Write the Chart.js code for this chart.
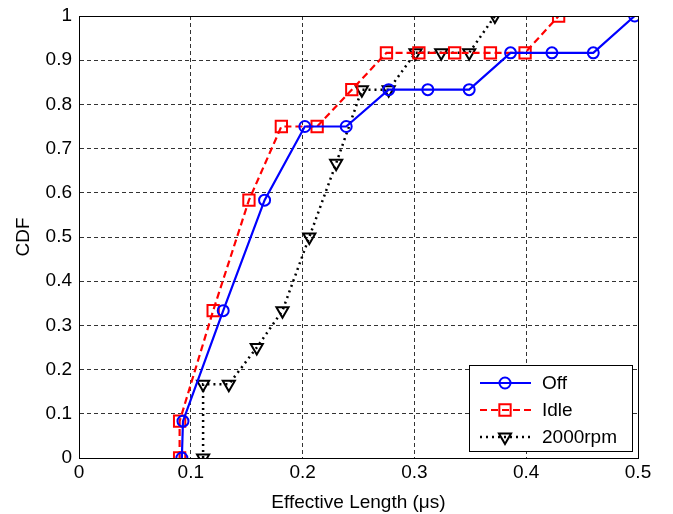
<!DOCTYPE html>
<html>
<head>
<meta charset="utf-8">
<script src="https://cdn.jsdelivr.net/npm/chart.js@4/dist/chart.umd.min.js"></script>
<style>
  body { margin: 0; background: #fff; }
</style>
</head>
<body>
<canvas id="cdfChart" width="673" height="514"></canvas>
<script>
// values (x in microseconds, y = CDF)
const offX = [0.092, 0.093, 0.129, 0.166, 0.202, 0.239, 0.277, 0.312, 0.349, 0.386, 0.423, 0.460, 0.497];
const offY = [0, 1/12, 4/12, 7/12, 9/12, 9/12, 10/12, 10/12, 10/12, 11/12, 11/12, 11/12, 1];

const idleX = [0.090, 0.090, 0.120, 0.152, 0.181, 0.213, 0.244, 0.275, 0.304, 0.336, 0.368, 0.399, 0.429];
const idleY = [0, 1/12, 4/12, 7/12, 9/12, 9/12, 10/12, 11/12, 11/12, 11/12, 11/12, 11/12, 1];

const rpmX = [0.111, 0.111, 0.134, 0.159, 0.182, 0.206, 0.230, 0.253, 0.277, 0.301, 0.324, 0.349, 0.372];
const rpmY = [0, 2/12, 2/12, 3/12, 4/12, 6/12, 8/12, 10/12, 10/12, 11/12, 11/12, 11/12, 1];

const xTicks = [0, 0.1, 0.2, 0.3, 0.4, 0.5];
const yTicks = [0, 0.1, 0.2, 0.3, 0.4, 0.5, 0.6, 0.7, 0.8, 0.9, 1];

function pts(xs, ys) {
  return xs.map(function(x, i) { return { x: x, y: ys[i] }; });
}

const FONT = "'Liberation Sans', Arial, Helvetica, sans-serif";
Chart.defaults.font.family = FONT;
Chart.defaults.font.size = 19;
Chart.defaults.color = '#000';

// full box around the plot area
const boxPlugin = {
  id: 'box',
  afterDraw(chart) {
    const a = chart.chartArea, ctx = chart.ctx;
    ctx.save();
    ctx.strokeStyle = '#000';
    ctx.lineWidth = 1;
    ctx.setLineDash([]);
    ctx.strokeRect(a.left + 0.5, a.top + 0.5, a.right - a.left, a.bottom - a.top);
    ctx.restore();
  }
};

// matlab-style legend in the lower right, line + marker per series
const legendPlugin = {
  id: 'inLegend',
  afterDraw(chart) {
    const a = chart.chartArea, ctx = chart.ctx;
    const w = 163, h = 86;
    const x0 = a.right - 169, y0 = a.bottom - 93;
    ctx.save();
    ctx.fillStyle = '#fff';
    ctx.fillRect(x0, y0, w, h);
    ctx.strokeStyle = '#000';
    ctx.lineWidth = 1;
    ctx.strokeRect(x0 + 0.5, y0 + 0.5, w, h);
    chart.data.datasets.forEach(function(ds, i) {
      const cy = y0 + 18 + i * 27;
      ctx.strokeStyle = ds.borderColor;
      ctx.lineWidth = ds.borderWidth;
      ctx.setLineDash(ds.borderDash || []);
      ctx.beginPath();
      ctx.moveTo(x0 + 11, cy);
      ctx.lineTo(x0 + 62, cy);
      ctx.stroke();
      ctx.setLineDash([]);
      ctx.lineWidth = 2;
      ctx.fillStyle = 'rgba(0,0,0,0)';
      Chart.helpers.drawPoint(ctx, {
        pointStyle: ds.pointStyle,
        radius: ds.pointRadius,
        rotation: ds.pointRotation || 0,
        borderWidth: 2
      }, x0 + 36, cy);
      ctx.fillStyle = '#000';
      ctx.font = '19px ' + FONT;
      ctx.textBaseline = 'middle';
      ctx.fillText(ds.label, x0 + 73, cy + 1);
    });
    ctx.restore();
  }
};

new Chart(document.getElementById('cdfChart').getContext('2d'), {
  type: 'line',
  data: {
    datasets: [{
      label: 'Off',
      data: pts(offX, offY),
      borderColor: '#0000ff',
      backgroundColor: 'rgba(0,0,0,0)',
      borderWidth: 2.2,
      pointStyle: 'circle',
      pointRadius: 5.5,
      pointBorderWidth: 2,
      pointBorderColor: '#0000ff',
      pointBackgroundColor: 'rgba(0,0,0,0)'
    }, {
      label: 'Idle',
      data: pts(idleX, idleY),
      borderColor: '#ff0000',
      backgroundColor: 'rgba(0,0,0,0)',
      borderWidth: 2.2,
      borderDash: [7, 4],
      pointStyle: 'rect',
      pointRadius: 8,
      pointBorderWidth: 2,
      pointBorderColor: '#ff0000',
      pointBackgroundColor: 'rgba(0,0,0,0)'
    }, {
      label: '2000rpm',
      data: pts(rpmX, rpmY),
      borderColor: '#000000',
      backgroundColor: 'rgba(0,0,0,0)',
      borderWidth: 2.5,
      borderDash: [2, 4],
      pointStyle: 'triangle',
      pointRotation: 180,
      pointRadius: 7,
      pointBorderWidth: 2,
      pointBorderColor: '#000000',
      pointBackgroundColor: 'rgba(0,0,0,0)'
    }]
  },
  options: {
    responsive: false,
    animation: false,
    layout: { padding: { left: 0, top: 16, right: 35, bottom: 0 } },
    plugins: {
      legend: { display: false },
      tooltip: { enabled: false }
    },
    scales: {
      x: {
        type: 'linear',
        min: 0,
        max: 0.5,
        afterBuildTicks(axis) { axis.ticks = xTicks.map(function(v) { return { value: v }; }); },
        afterFit(axis) { axis.height = 56; axis.paddingLeft = 0; axis.paddingRight = 0; },
        ticks: {
          padding: 3,
          callback: function(v) { return String(+v.toFixed(1)); }
        },
        grid: { color: '#333', lineWidth: 1, drawTicks: false },
        border: { display: true, color: '#000', dash: [4, 3] },
        title: { display: true, text: 'Effective Length (\u03bcs)', padding: { top: 1, bottom: 0 } }
      },
      y: {
        type: 'linear',
        min: 0,
        max: 1,
        afterBuildTicks(axis) { axis.ticks = yTicks.map(function(v) { return { value: v }; }); },
        afterFit(axis) { axis.width = 79; axis.paddingTop = 0; axis.paddingBottom = 0; },
        ticks: {
          padding: 7,
          callback: function(v) { return String(+v.toFixed(1)); }
        },
        grid: { color: '#333', lineWidth: 1, drawTicks: false },
        border: { display: true, color: '#000', dash: [4, 3] },
        title: { display: true, text: 'CDF', padding: { top: 12, bottom: 0 } }
      }
    }
  },
  plugins: [boxPlugin, legendPlugin]
});
</script>
</body>
</html>
